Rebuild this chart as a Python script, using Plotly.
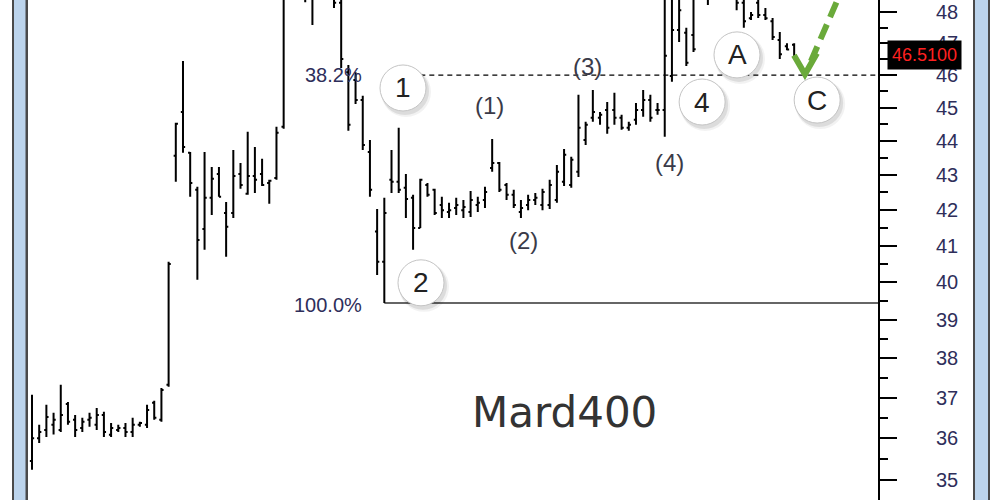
import math
import plotly.graph_objects as go

# ---------------- data (prices) ----------------
opens = [35.45, 36.00, 36.20, 36.33, 36.20, 36.84, 36.45, 36.25, 36.45, 36.33,
         36.57, 36.08, 36.20, 36.25, 36.15, 36.33, 36.33, 36.87, 36.45, 37.32,
         43.56, 44.87, 43.65, 42.57, 41.46, 42.34, 43.03, 41.91, 41.91, 43.03,
         42.46, 42.97, 43.03, 42.77, 42.91, 44.42, 49.00, 49.60, 49.20, 48.60,
         48.90, 49.40, 48.60, 48.30, 46.09, 45.85, 45.23, 43.67, 41.39, 40.55,
         42.86, 42.80, 42.63, 42.34, 41.49, 42.71, 42.57, 42.14, 41.94, 42.05,
         41.99, 41.94, 42.14, 42.28, 43.20, 43.35, 42.71, 42.43, 41.94, 42.14,
         42.28, 42.14, 42.14, 42.28, 42.80, 42.71, 43.09, 44.03, 44.69, 44.69,
         44.93, 44.93, 44.69, 44.39, 44.63, 44.93, 45.23, 44.93, 44.93, 45.97,
         47.42, 47.33, 47.26, 48.70, 49.20, 48.80, 49.60, 49.30, 48.90, 48.30,
         47.80, 48.30, 47.90, 47.70, 47.10, 46.90, 46.95]
highs = [37.07, 36.33, 36.82, 36.62, 37.32, 36.89, 36.57, 36.50, 36.62, 36.74,
         36.65, 36.37, 36.33, 36.37, 36.50, 36.40, 36.82, 36.92, 37.24, 40.55,
         44.54, 46.44, 43.67, 42.66, 43.67, 43.23, 43.23, 42.22, 43.73, 43.35,
         44.27, 43.82, 43.47, 42.86, 44.42, 49.20, 50.00, 50.05, 49.70, 49.30,
         49.80, 49.60, 48.90, 48.60, 46.31, 46.09, 45.36, 44.03, 42.02, 42.34,
         43.73, 44.39, 43.03, 42.43, 42.89, 42.77, 42.60, 42.37, 42.20, 42.34,
         42.28, 42.54, 42.37, 42.66, 44.06, 43.38, 42.77, 42.57, 42.28, 42.43,
         42.48, 42.60, 42.86, 43.29, 43.76, 43.53, 45.39, 44.57, 45.54, 44.87,
         45.17, 45.45, 44.78, 44.57, 45.14, 45.54, 45.39, 45.14, 48.56, 49.05,
         48.88, 47.49, 48.72, 49.40, 49.50, 49.90, 50.00, 49.70, 49.20, 48.90,
         48.00, 48.65, 48.13, 47.81, 47.36, 47.00, 47.00]
lows = [35.24, 35.88, 36.03, 36.09, 36.15, 36.33, 36.03, 36.15, 36.28, 36.20,
        36.03, 36.03, 36.15, 36.03, 36.03, 36.28, 36.25, 36.45, 36.40, 37.27,
        42.80, 43.65, 42.37, 40.06, 40.88, 41.85, 42.37, 40.69, 41.77, 42.60,
        42.43, 42.48, 42.68, 42.17, 42.86, 44.36, 48.70, 48.90, 48.32, 47.58,
        48.60, 48.50, 48.13, 46.22, 44.30, 45.11, 43.73, 42.37, 40.19, 39.44,
        42.48, 42.48, 41.77, 40.88, 41.49, 42.37, 41.85, 41.77, 41.77, 41.85,
        41.77, 41.80, 41.94, 42.05, 43.09, 42.51, 42.28, 42.05, 41.77, 41.99,
        42.14, 41.99, 42.02, 42.20, 42.68, 42.63, 42.94, 43.88, 44.57, 44.48,
        44.21, 44.48, 44.33, 44.30, 44.48, 44.72, 44.57, 44.78, 44.12, 45.79,
        47.04, 46.28, 46.72, 48.50, 48.23, 48.60, 49.00, 48.70, 48.06, 47.49,
        47.74, 47.81, 47.74, 47.10, 46.50, 46.78, 46.51]
closes = [36.00, 36.15, 36.52, 36.45, 36.57, 36.40, 36.20, 36.40, 36.50, 36.57,
          36.15, 36.25, 36.25, 36.15, 36.33, 36.37, 36.69, 36.50, 37.19, 40.49,
          44.51, 43.82, 42.77, 41.15, 42.34, 42.89, 42.37, 41.52, 42.97, 42.71,
          42.97, 42.86, 42.71, 42.83, 44.24, 48.90, 49.60, 49.20, 48.50, 49.00,
          49.50, 48.70, 48.30, 46.50, 44.48, 45.23, 43.88, 42.57, 40.55, 41.91,
          42.80, 42.57, 42.31, 41.49, 42.86, 42.43, 41.91, 41.99, 41.99, 42.14,
          42.08, 42.28, 42.20, 42.51, 43.35, 42.57, 42.43, 42.14, 42.05, 42.28,
          42.34, 42.51, 42.71, 43.09, 43.59, 43.44, 44.39, 44.48, 44.87, 44.78,
          44.39, 44.69, 44.39, 44.48, 44.93, 45.23, 44.69, 44.93, 46.60, 47.42,
          48.06, 46.38, 46.81, 49.20, 48.60, 49.60, 49.30, 48.90, 48.30, 47.70,
          47.90, 47.90, 47.80, 47.20, 46.65, 46.80, 46.51]
bar_index = list(range(len(opens)))

y_ticks = [35, 36, 37, 38, 39, 40, 41, 42, 43, 44, 45, 46, 47, 48]
y_minor = [35.5, 36.5, 37.5, 38.5, 39.5, 40.5, 41.5, 42.5, 43.5, 44.5, 45.5, 46.5, 47.5]

fib_low_bar = 49
fib_labels = ["38.2%", "100.0%"]

wave_labels = ["1", "2", "4", "A", "C"]
wave_x = [51.6, 54.1, 93.2, 98.05, 109.2]
wave_y = [45.60, 39.98, 45.17, 46.63, 45.23]

sub_labels = ["(1)", "(2)", "(3)", "(4)"]
sub_x = [63.6, 68.3, 77.2, 88.6]
sub_y = [45.05, 41.15, 46.28, 43.35]

last_price_text = "46.5100"
watermark = "Mard400"
arrow_tip_x = 107.5

# ---------------- derived levels ----------------
fib_low = lows[fib_low_bar]
fib_high = max(highs)
fib_382 = fib_high - 0.382 * (fib_high - fib_low)
lg = math.log10

fig = go.Figure()
fig.add_trace(go.Ohlc(
    x=bar_index, open=opens, high=highs, low=lows, close=closes,
    increasing=dict(line=dict(color="black", width=2)),
    decreasing=dict(line=dict(color="black", width=2)),
    tickwidth=0.3, hoverinfo="skip", showlegend=False,
))

# circle badges (shadow + white disc) as markers
px_x = 1 / 7.19              # one pixel in bar-index units
px_y = 10 ** (-1 / 3411.0)   # one pixel (down) as a price factor
for off, size, alpha in [(3, 50, 0.05), (2, 48, 0.09)]:
    fig.add_trace(go.Scatter(
        x=[v + off * px_x for v in wave_x], y=[v * px_y ** (off + 1) for v in wave_y],
        mode="markers", hoverinfo="skip", showlegend=False,
        marker=dict(size=size, color=f"rgba(0,0,0,{alpha})", line=dict(width=0)),
    ))
fig.add_trace(go.Scatter(
    x=wave_x, y=wave_y, mode="markers", hoverinfo="skip", showlegend=False,
    marker=dict(size=46, color="white", line=dict(color="#c4c4c4", width=1)),
))

shapes = []
# fib lines
shapes.append(dict(type="line", xref="x", yref="y", x0=fib_low_bar, x1=117.66,
                   y0=fib_382, y1=fib_382, layer="below",
                   line=dict(color="black", width=1.3, dash="5px,4px")))
shapes.append(dict(type="line", xref="x", yref="y", x0=fib_low_bar, x1=117.66,
                   y0=fib_low, y1=fib_low, layer="below",
                   line=dict(color="#333333", width=1.6)))

# green dashed arrow
green = "#6aaa3a"
shapes.append(dict(type="line", xref="x", yref="y", xsizemode="pixel", ysizemode="pixel",
                   xanchor=arrow_tip_x, yanchor=fib_382, x0=6, y0=14, x1=52, y1=120,
                   line=dict(color=green, width=6, dash="16px,8px")))
shapes.append(dict(type="path", xref="x", yref="y", xsizemode="pixel", ysizemode="pixel",
                   xanchor=arrow_tip_x, yanchor=fib_382,
                   path="M -11,20 L 0,1 L 12,22",
                   line=dict(color=green, width=6)))

# window frame strips (decoration)
def px(xp):
    return (xp - 28) / 850.0

for x0, x1, col in [(12, 28, "#4a4a4a"), (14, 25.5, "#bcd4ec"),
                    (973, 990, "#4a4a4a"), (975, 988, "#bcd4ec")]:
    shapes.append(dict(type="rect", xref="paper", yref="paper", x0=px(x0), x1=px(x1),
                       y0=0, y1=1, fillcolor=col, line=dict(width=0), layer="below"))

annotations = []
txt_col = "#2e2e5a"
annotations.append(dict(x=fib_low_bar, y=lg(fib_382), xref="x", yref="y", yanchor="middle",
                        xanchor="right", xshift=-20, text=fib_labels[0], showarrow=False,
                        font=dict(family="Liberation Sans", size=20, color=txt_col)))
annotations.append(dict(x=fib_low_bar, y=lg(fib_low), xref="x", yref="y", yanchor="middle",
                        xanchor="right", xshift=-20, yshift=-2, text=fib_labels[1], showarrow=False,
                        font=dict(family="Liberation Sans", size=20, color=txt_col)))
for t, cx, cy in zip(wave_labels, wave_x, wave_y):
    annotations.append(dict(x=cx, y=lg(cy), xref="x", yref="y", text=t, showarrow=False,
                            font=dict(family="Liberation Sans", size=28, color="#222222")))
for t, cx, cy in zip(sub_labels, sub_x, sub_y):
    annotations.append(dict(x=cx, y=lg(cy), xref="x", yref="y", text=t, showarrow=False,
                            font=dict(family="Liberation Sans", size=24, color="#3a3a48")))
annotations.append(dict(x=74.1, y=lg(36.62), xref="x", yref="y", text=watermark, showarrow=False,
                        font=dict(family="DejaVu Sans", size=42, color="#333333")))
annotations.append(dict(x=px(925), y=lg(closes[-1]), xref="paper", yref="y", yshift=4,
                        xanchor="center", yanchor="middle",
                        text=last_price_text, showarrow=False, bgcolor="black", borderpad=4,
                        font=dict(family="Liberation Sans", size=18, color="#ff2020")))

fig.update_layout(
    width=1000, height=500,
    margin=dict(l=28, r=122, t=0, b=0),
    paper_bgcolor="white", plot_bgcolor="white",
    showlegend=False,
    shapes=shapes, annotations=annotations,
    xaxis=dict(range=[-0.556, 117.66], visible=False, rangeslider=dict(visible=False),
               showgrid=False, zeroline=False),
    yaxis=dict(type="log", range=[1.53817, 1.68476], side="right",
               tickvals=y_ticks, ticktext=[str(v) for v in y_ticks],
               ticks="outside", ticklen=17, tickwidth=2, tickcolor="black",
               showline=True, linecolor="black", linewidth=2,
               showgrid=False, zeroline=False, ticklabelstandoff=35,
               tickfont=dict(family="Liberation Sans", size=20, color=txt_col),
               minor=dict(tickvals=y_minor, ticks="outside", ticklen=8, tickwidth=2,
                          tickcolor="black", showgrid=False)),
)

fig.write_html("out.html", config={"displayModeBar": False},
               post_script="document.body.style.margin='0';")
